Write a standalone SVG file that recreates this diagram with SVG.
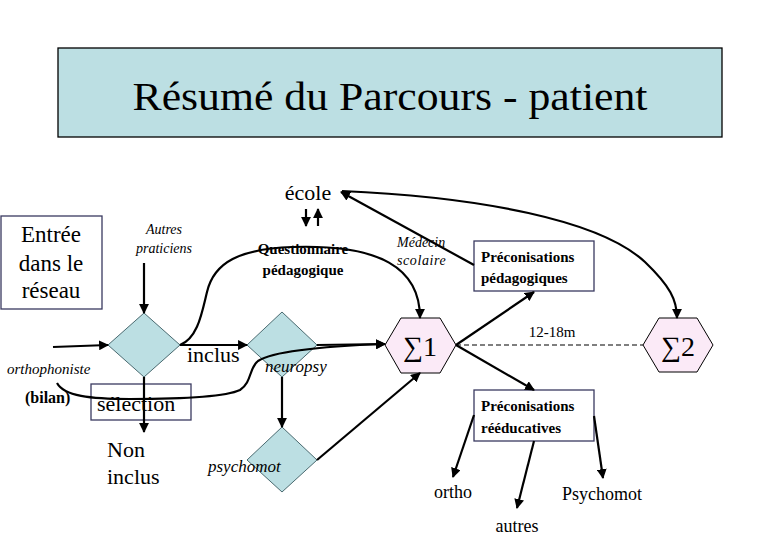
<svg xmlns="http://www.w3.org/2000/svg" width="780" height="540" viewBox="0 0 780 540" font-family="'Liberation Serif', 'DejaVu Serif', serif">
<defs>
<style>
text{font-family:'Liberation Serif', 'DejaVu Serif', serif;fill:#000}
.i{font-style:italic}
.b{font-weight:bold}
.c{stroke:#000;stroke-width:2.2;fill:none}
.ar{marker-end:url(#ah)}
.box{fill:#fff;stroke:#3a3a60;stroke-width:1.3}
.dia{fill:#BCDFE3;stroke:#4a6a70;stroke-width:1}
.hex{fill:#FBEAF7;stroke:#000;stroke-width:1}
</style>
<marker id="ah" viewBox="0 0 10 10" refX="9" refY="5" markerWidth="4.5" markerHeight="4.5" orient="auto" markerUnits="strokeWidth">
<path d="M0,0 L10,5 L0,10 z" fill="#000"/>
</marker>
</defs>
<rect width="780" height="540" fill="#fff"/>

<g id="title">
<rect x="58" y="48" width="664" height="89" fill="#BCDFE3" stroke="#000" stroke-width="1.3"/>
<text x="390" y="110" font-size="41" text-anchor="middle" textLength="515" lengthAdjust="spacingAndGlyphs">Résumé du Parcours - patient</text>
</g>

<g id="entree">
<rect class="box" x="1" y="216" width="101" height="93"/>
<text x="51" y="242" font-size="23" text-anchor="middle">Entrée</text>
<text x="51" y="271" font-size="23" text-anchor="middle">dans le</text>
<text x="51" y="298" font-size="23" text-anchor="middle">réseau</text>
</g>

<g id="autres-praticiens">
<text class="i" x="164" y="234" font-size="14" text-anchor="middle">Autres</text>
<text class="i" x="164" y="253" font-size="14" text-anchor="middle">praticiens</text>
</g>

<g id="ecole">
<text x="308" y="200" font-size="22" text-anchor="middle">école</text>
</g>

<g id="questionnaire">
<text class="b" x="303" y="254" font-size="15" text-anchor="middle">Questionnaire</text>
<text class="b" x="303" y="275" font-size="15" text-anchor="middle">pédagogique</text>
</g>

<g id="medecin">
<text class="i" x="397" y="247" font-size="14">Médecin</text>
<text class="i" x="397" y="265" font-size="14" letter-spacing="0.6">scolaire</text>
</g>

<g id="preco-peda">
<rect class="box" x="474" y="241" width="120" height="50"/>
<text class="b" x="481" y="262" font-size="15">Préconisations</text>
<text class="b" x="481" y="283" font-size="15">pédagogiques</text>
</g>

<g id="diamond-selection">
<polygon class="dia" points="144,313 180,345 144,377 108,345"/>
</g>

<g id="diamond-neuropsy">
<polygon class="dia" points="282,312 317,345 282,377 247,345"/>
</g>

<g id="diamond-psychomot">
<polygon class="dia" points="282,427 317,460 282,492 247,460"/>
</g>

<g id="sigma1">
<polygon class="hex" points="385,345 401,318 440,318 456,345 440,373 401,373"/>
<text x="420" y="356" font-size="28" text-anchor="middle">∑1</text>
</g>

<g id="sigma2">
<polygon class="hex" points="643,345 659,318 697,318 713,345 697,372 659,372"/>
<text x="678" y="356" font-size="28" text-anchor="middle">∑2</text>
</g>

<g id="selection">
<rect x="91" y="384" width="100" height="36" fill="none" stroke="#3a3a60" stroke-width="1.3"/>
</g>

<g id="preco-reed">
<rect class="box" x="474" y="390" width="120" height="51"/>
<text class="b" x="481" y="411" font-size="15">Préconisations</text>
<text class="b" x="481" y="433" font-size="15">rééducatives</text>
</g>

<g id="connectors">
<line class="c ar" x1="306" y1="209" x2="306" y2="226" stroke-width="1.8"/>
<line class="c ar" x1="318" y1="226" x2="318" y2="209" stroke-width="1.8"/>
<line class="c ar" x1="144" y1="263" x2="144" y2="313"/>
<line class="c ar" x1="53" y1="347" x2="108" y2="345"/>
<line class="c ar" x1="180" y1="345" x2="247" y2="345"/>
<line class="c ar" x1="317" y1="345" x2="385" y2="344"/>
<path class="c ar" d="M180,345 C198,338 202,312 207,292 C214,262 240,249 292,247 C380,244 420,268 420,318"/>
<path class="c ar" d="M57,383 C64,396 90,399 130,399 C180,399 225,397 240,390 C252,382 249,368 258,361 C275,350 330,346 385,344"/>
<line class="c ar" x1="144" y1="377" x2="144" y2="432"/>
<line class="c ar" x1="282" y1="377" x2="282" y2="427"/>
<line class="c ar" x1="317" y1="460" x2="420" y2="373"/>
<line class="c ar" x1="456" y1="345" x2="534" y2="292"/>
<line class="c ar" x1="456" y1="345" x2="534" y2="390"/>
<line class="c ar" x1="474" y1="265" x2="341" y2="192"/>
<path class="c ar" d="M342,191 C480,197 600,220 645,262 C670,286 677,300 677,318"/>
<line x1="456" y1="345" x2="643" y2="345" stroke="#000" stroke-width="1.2" stroke-dasharray="5,3"/>
<line class="c ar" x1="474" y1="415" x2="453" y2="477"/>
<line class="c ar" x1="534" y1="441" x2="517" y2="508"/>
<line class="c ar" x1="594" y1="416" x2="603" y2="478"/>
</g>

<g id="labels">
<text x="187" y="362" font-size="22">inclus</text>
<text class="i" x="265" y="372" font-size="17">neuropsy</text>
<text class="i" x="208" y="472" font-size="17">psychomot</text>
<text class="i" x="7" y="374" font-size="15">orthophoniste</text>
<text class="b" x="25" y="403" font-size="16">(bilan)</text>
<text x="97" y="411" font-size="22">sélection</text>
<text x="107" y="457" font-size="22">Non</text>
<text x="107" y="484" font-size="22">inclus</text>
<text x="552" y="337" font-size="15" text-anchor="middle">12-18m</text>
<text x="453" y="498" font-size="18" text-anchor="middle">ortho</text>
<text x="517" y="532" font-size="18" text-anchor="middle">autres</text>
<text x="602" y="500" font-size="18" text-anchor="middle">Psychomot</text>
</g>
</svg>
